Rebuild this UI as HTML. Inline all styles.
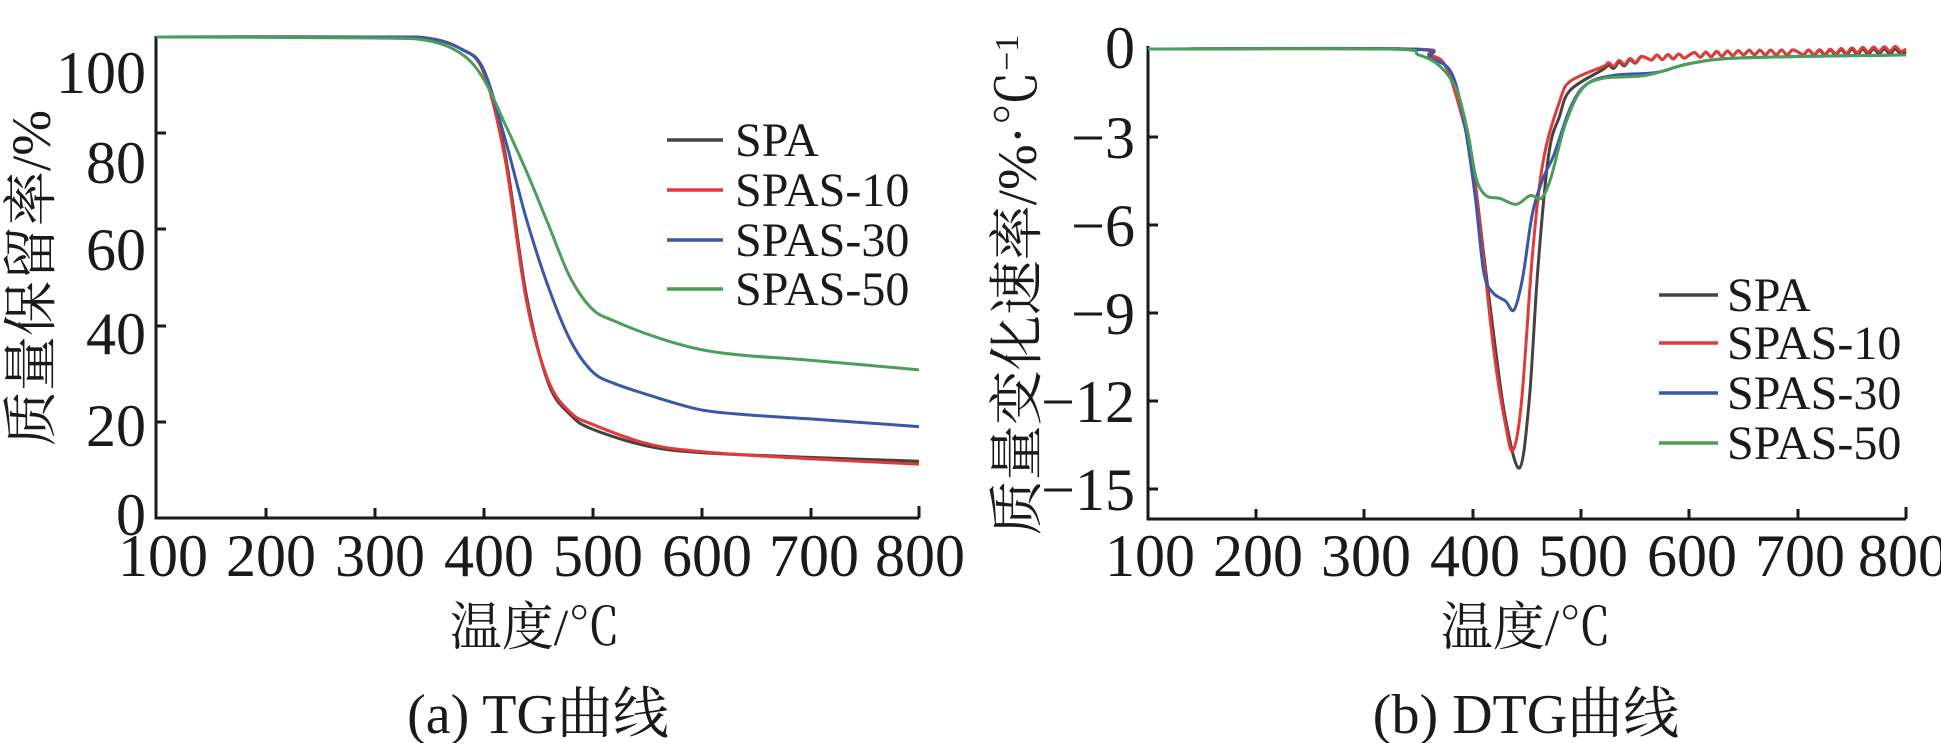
<!DOCTYPE html>
<html><head><meta charset="utf-8">
<style>
html,body{margin:0;padding:0;background:#fff;}
svg{display:block;}
text{font-family:"Liberation Serif","Noto Serif CJK SC","Noto Sans CJK SC",serif;fill:#1a1a1a;}
</style></head>
<body>
<svg id="s" width="1941" height="743" viewBox="0 0 1941 743" xmlns="http://www.w3.org/2000/svg">
<!-- Left panel axes -->
<g stroke="#1a1a1a" stroke-width="3" fill="none">
<path d="M156 36 V518 H919"/>
<path d="M156 422 h10 M156 326 h10 M156 229 h10 M156 133 h10 M156 37 h10"/>
<path d="M266 518 v-10 M375 518 v-10 M484 518 v-10 M593 518 v-10 M702 518 v-10 M811 518 v-10 M919 518 v-12"/>
</g>
<g font-size="60" text-anchor="end">
<text x="146" y="535">0</text>
<text x="146" y="446">20</text>
<text x="146" y="354">40</text>
<text x="146" y="270">60</text>
<text x="146" y="183">80</text>
<text x="146" y="93">100</text>
</g>
<g font-size="60" text-anchor="middle">
<text x="163" y="576">100</text><text x="271" y="576">200</text><text x="380" y="576">300</text>
<text x="489" y="576">400</text><text x="598" y="576">500</text><text x="707" y="576">600</text>
<text x="814" y="576">700</text><text x="920" y="576">800</text>
</g>
<text x="535" y="645" font-size="52" text-anchor="middle">温度/℃</text>
<text x="538" y="733" font-size="56" text-anchor="middle">(a) TG曲线</text>
<text transform="translate(50,278) rotate(-90)" font-size="55" text-anchor="middle">质量保留率/%</text>
<g stroke-width="3.5">
<line x1="667" y1="140" x2="723" y2="140" stroke="#4a4040"/>
<line x1="667" y1="190" x2="723" y2="190" stroke="#e03a3a"/>
<line x1="667" y1="240" x2="723" y2="240" stroke="#3a57a8"/>
<line x1="667" y1="289" x2="723" y2="289" stroke="#4a9e5a"/>
</g>
<g font-size="48">
<text x="735" y="156">SPA</text><text x="735" y="206">SPAS-10</text>
<text x="735" y="256">SPAS-30</text><text x="735" y="305">SPAS-50</text>
</g>
<g id="lp" fill="none" stroke-width="3" stroke-linejoin="round"></g>

<!-- Right panel axes -->
<g stroke="#1a1a1a" stroke-width="3" fill="none">
<path d="M1148 46 V519 H1906"/>
<path d="M1148 49 h10 M1148 137 h10 M1148 225 h10 M1148 313 h10 M1148 401 h10 M1148 489 h10"/>
<path d="M1256 519 v-10 M1364 519 v-10 M1473 519 v-10 M1581 519 v-10 M1689 519 v-10 M1798 519 v-10 M1906 519 v-12"/>
</g>
<g font-size="60" text-anchor="end">
<text x="1135" y="68">0</text>
<text x="1135" y="158">−3</text>
<text x="1135" y="246">−6</text>
<text x="1135" y="334">−9</text>
<text x="1135" y="422">−12</text>
<text x="1135" y="510">−15</text>
</g>
<g font-size="60" text-anchor="middle">
<text x="1150" y="576">100</text><text x="1258" y="576">200</text><text x="1366" y="576">300</text>
<text x="1475" y="576">400</text><text x="1583" y="576">500</text><text x="1692" y="576">600</text>
<text x="1800" y="576">700</text><text x="1903" y="576">800</text>
</g>
<text x="1526" y="645" font-size="52" text-anchor="middle">温度/℃</text>
<text x="1526" y="733" font-size="56" text-anchor="middle">(b) DTG曲线</text>
<text transform="translate(1036,285) rotate(-90)" font-size="55" text-anchor="middle">质量变化速率/%·℃<tspan font-size="34" dy="-18">−1</tspan></text>
<g stroke-width="3.5">
<line x1="1659" y1="295" x2="1718" y2="295" stroke="#4a4040"/>
<line x1="1659" y1="343" x2="1718" y2="343" stroke="#e03a3a"/>
<line x1="1659" y1="393" x2="1718" y2="393" stroke="#3a57a8"/>
<line x1="1659" y1="443" x2="1718" y2="443" stroke="#4a9e5a"/>
</g>
<g font-size="48">
<text x="1727" y="311">SPA</text><text x="1727" y="359">SPAS-10</text>
<text x="1727" y="409">SPAS-30</text><text x="1727" y="459">SPAS-50</text>
</g>
<g id="rp" fill="none" stroke-width="3" stroke-linejoin="round"></g>
</svg>
<script>
function cr(pts){var d="M"+pts[0][0].toFixed(1)+" "+pts[0][1].toFixed(1);
for(var i=0;i<pts.length-1;i++){var p0=pts[Math.max(i-1,0)],p1=pts[i],p2=pts[i+1],p3=pts[Math.min(i+2,pts.length-1)];
d+=" C"+(p1[0]+(p2[0]-p0[0])/6).toFixed(1)+" "+(p1[1]+(p2[1]-p0[1])/6).toFixed(1)+" "+(p2[0]-(p3[0]-p1[0])/6).toFixed(1)+" "+(p2[1]-(p3[1]-p1[1])/6).toFixed(1)+" "+p2[0].toFixed(1)+" "+p2[1].toFixed(1);}
return d;}
function add(g,data,fx,fy,col){var p=document.createElementNS("http://www.w3.org/2000/svg","path");
p.setAttribute("d",cr(data.map(function(a){return [fx(a[0]),fy(a[1])];})));p.setAttribute("stroke",col);document.getElementById(g).appendChild(p);}
var lx=function(t){return 156+(t-100)*1.09;},ly=function(v){return 518-v*4.81;};
var rx=function(t){return 1148+(t-100)*1.083;},ry=function(v){return 49-v*29.3;};
var C=["#4a4040","#e03a3a","#3a57a8","#4a9e5a"];
var spa=[[100,100],[300,100],[350,99.7],[380,97.5],[400,93],[420,76],[440,46],[460,28],[480,21.5],[500,18.5],[550,15],[600,13.6],[700,12.6],[800,11.8]];
var s10=[[100,100],[300,100],[350,99.7],[380,97.5],[400,93],[420,75],[440,45],[460,28.5],[480,22],[500,19.5],[550,15.5],[600,13.8],[700,12.3],[800,11.2]];
var s30=[[100,100],[300,100],[350,99.7],[380,97.5],[400,93.5],[420,79],[440,62],[460,48],[480,37],[500,30.5],[520,28],[560,25],[600,22.5],[640,21.5],[700,20.6],[800,19]];
var s50=[[100,100],[300,99.8],[350,99.2],[380,96.5],[400,91.5],[420,82],[440,72],[460,61],[480,50],[500,43.5],[520,41],[560,37.5],[600,35],[640,33.8],[700,32.8],[800,30.8]];
add("lp",spa,lx,ly,C[0]);add("lp",s10,lx,ly,C[1]);add("lp",s30,lx,ly,C[2]);add("lp",s50,lx,ly,C[3]);
function noisy(a,from,amp){var o=[],k=0;for(var i=0;i<a.length-1;i++){o.push(a[i]);var t0=a[i][0],t1=a[i+1][0];if(t0>=from){for(var t=t0+5;t<t1-2;t+=5){k++;var v=a[i][1]+(a[i+1][1]-a[i][1])*(t-t0)/(t1-t0);o.push([t,v+(k%2?amp:-amp)*(0.5+0.5*Math.abs(Math.sin(k*1.7)))]);}}}o.push(a[a.length-1]);return o;}
var d0=[[100,0],[340,0],[360,-0.2],[375,-0.6],[390,-2.3],[400,-4],[410,-7],[420,-10],[430,-12.6],[443,-14.3],[452,-12],[460,-7.5],[470,-3.6],[480,-2.3],[490,-1.4],[520,-0.7],[560,-0.3],[600,-0.2],[700,-0.1],[800,-0.1]];
var d1=[[100,0],[340,0],[360,-0.2],[375,-0.6],[390,-2.3],[400,-4],[410,-7.2],[420,-10.5],[430,-12.8],[437,-13.7],[445,-12],[455,-7],[465,-3.8],[480,-1.8],[490,-1.1],[520,-0.6],[560,-0.3],[600,-0.2],[700,-0.1],[800,0]];
var d3=[[100,0],[340,0],[360,-0.3],[380,-0.8],[392,-2.5],[402,-5],[410,-7.6],[418,-8.3],[430,-8.6],[438,-8.9],[446,-7.8],[455,-5.6],[465,-4.4],[475,-3.6],[490,-2],[505,-1.2],[530,-0.9],[570,-0.8],[600,-0.5],[650,-0.3],[800,-0.2]];
var d5=[[100,0],[320,0],[350,-0.2],[370,-0.6],[385,-1.4],[395,-2.8],[403,-4.4],[412,-5],[425,-5.1],[440,-5.3],[453,-5],[463,-5.1],[472,-4.4],[485,-2.6],[500,-1.4],[520,-1],[560,-0.9],[600,-0.5],[650,-0.3],[800,-0.2]];
add("rp",noisy(d0,520,0.1),rx,ry,C[0]);add("rp",noisy(d1,520,0.1),rx,ry,C[1]);add("rp",d3,rx,ry,C[2]);add("rp",d5,rx,ry,C[3]);
</script>
</body></html>
